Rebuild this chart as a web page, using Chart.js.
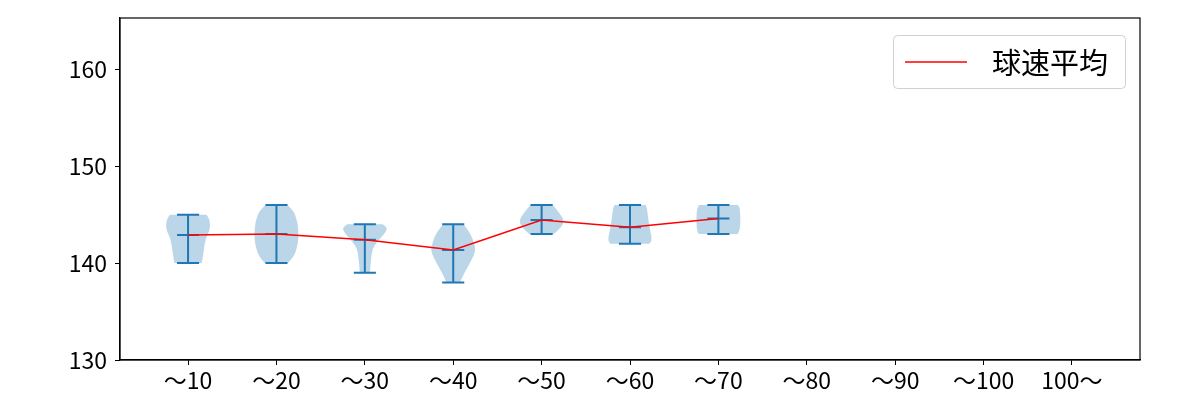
<!DOCTYPE html>
<html lang="ja">
<head>
    <meta charset="UTF-8">
    <title>球速平均</title>
    <script src="https://cdn.jsdelivr.net/npm/chart.js"></script>
    <style>
        body { margin: 0; background: #fff; }
        #wrap { width: 1200px; height: 400px; }
    </style>
</head>
<body>
    <div id="wrap"><canvas id="chart"></canvas></div>
    <script>
        // categories and tick labels
        const categories = ["～10", "～20", "～30", "～40", "～50", "～60", "～70", "～80", "～90", "～100", "100～"];
        const yTicks = [130, 140, 150, 160];

        // per-category stats (null = no data)
        const minVals  = [140, 140, 139, 138, 143, 142, 143, null, null, null, null];
        const maxVals  = [145, 146, 144, 144, 146, 146, 146, null, null, null, null];
        const meanVals = [142.9, 143.0, 142.4, 141.35, 144.45, 143.7, 144.6, null, null, null, null];

        // violin outlines: [speed, relative half-width]
        const violinShapes = [
            [[140, 0.62], [140.5, 0.66], [141.5, 0.72], [142.6, 0.8], [143.3, 0.97], [144, 1.0], [144.6, 0.95], [145, 0.83]],
            [[140, 0.52], [140.5, 0.72], [141, 0.85], [142, 0.97], [143, 1.0], [144, 0.97], [145, 0.85], [145.5, 0.72], [146, 0.5]],
            [[139, 0.23], [140.5, 0.28], [141.5, 0.35], [142.2, 0.55], [142.8, 0.8], [143.3, 0.97], [143.7, 1.0], [144, 0.8]],
            [[138, 0.3], [139, 0.5], [140, 0.76], [141, 0.97], [141.5, 1.0], [142, 0.95], [143, 0.8], [144, 0.47]],
            [[143, 0.55], [143.5, 0.8], [144, 0.97], [144.5, 1.0], [145, 0.85], [145.5, 0.7], [146, 0.5]],
            [[142, 0.88], [142.3, 1.0], [143, 0.95], [144, 0.86], [145, 0.8], [145.7, 0.77], [146, 0.7]],
            [[143, 0.88], [143.3, 0.97], [144.5, 1.0], [145.7, 0.97], [146, 0.88]],
            null, null, null, null
        ];

        const violinWidth = 0.5;   // in category units, like matplotlib
        const fontName = '"Noto Sans CJK JP", "Noto Sans", sans-serif';

        function smoothPath(ctx, pts) {
            ctx.lineTo(pts[0][0], pts[0][1]);
            for (let i = 1; i < pts.length - 1; i++) {
                const mx = (pts[i][0] + pts[i + 1][0]) / 2;
                const my = (pts[i][1] + pts[i + 1][1]) / 2;
                ctx.quadraticCurveTo(pts[i][0], pts[i][1], mx, my);
            }
            const last = pts[pts.length - 1];
            ctx.lineTo(last[0], last[1]);
        }

        const violinPlugin = {
            id: 'violins',
            beforeDatasetsDraw(chart) {
                const { ctx, chartArea, scales: { x, y } } = chart;
                ctx.save();
                ctx.beginPath();
                ctx.rect(chartArea.left, chartArea.top, chartArea.right - chartArea.left, chartArea.bottom - chartArea.top);
                ctx.clip();
                const half = x.getPixelForValue(1 + violinWidth / 2) - x.getPixelForValue(1);
                const capHalf = x.getPixelForValue(1 + violinWidth / 4) - x.getPixelForValue(1);
                violinShapes.forEach((shape, i) => {
                    if (!shape) return;
                    const cx = x.getPixelForValue(i + 1);
                    const right = shape.map(p => [cx + p[1] * half, y.getPixelForValue(p[0])]);
                    const left = shape.slice().reverse().map(p => [cx - p[1] * half, y.getPixelForValue(p[0])]);
                    ctx.beginPath();
                    ctx.moveTo(cx, right[0][1]);
                    smoothPath(ctx, right);
                    smoothPath(ctx, left);
                    ctx.closePath();
                    ctx.fillStyle = 'rgba(31,119,180,0.3)';
                    ctx.fill();
                });
                ctx.strokeStyle = '#1f77b4';
                ctx.lineWidth = 2;
                categories.forEach((c, i) => {
                    if (minVals[i] == null) return;
                    const cx = x.getPixelForValue(i + 1);
                    const yMin = y.getPixelForValue(minVals[i]);
                    const yMax = y.getPixelForValue(maxVals[i]);
                    const yMean = y.getPixelForValue(meanVals[i]);
                    ctx.beginPath();
                    ctx.moveTo(cx, yMin); ctx.lineTo(cx, yMax);
                    [yMin, yMax, yMean].forEach(yy => {
                        ctx.moveTo(cx - capHalf, yy); ctx.lineTo(cx + capHalf, yy);
                    });
                    ctx.stroke();
                });
                ctx.restore();
            },
            afterDraw(chart) {
                const { ctx, chartArea } = chart;
                ctx.save();
                // frame
                ctx.strokeStyle = '#000';
                ctx.lineWidth = 1.2;
                ctx.strokeRect(chartArea.left, chartArea.top, chartArea.right - chartArea.left, chartArea.bottom - chartArea.top);
                // legend box
                const ds = chart.data.datasets[0];
                const bx = 893, by = 35, bw = 232, bh = 53;
                ctx.fillStyle = 'rgba(255,255,255,0.8)';
                ctx.strokeStyle = '#d0d0d0';
                ctx.lineWidth = 1;
                ctx.beginPath();
                ctx.roundRect(bx + 0.5, by + 0.5, bw, bh, 4);
                ctx.fill();
                ctx.stroke();
                ctx.strokeStyle = ds.borderColor;
                ctx.lineWidth = 1.5;
                ctx.beginPath();
                ctx.moveTo(905, by + bh / 2 + 0.5);
                ctx.lineTo(967, by + bh / 2 + 0.5);
                ctx.stroke();
                ctx.fillStyle = '#000';
                ctx.font = '29px ' + fontName;
                ctx.textBaseline = 'middle';
                ctx.fillText(ds.label, 992, by + bh / 2 + 1);
                ctx.restore();
            }
        };

        new Chart(document.getElementById('chart'), {
            type: 'line',
            data: {
                datasets: [{
                    label: '球速平均',
                    data: meanVals.map((v, i) => ({ x: i + 1, y: v })),
                    borderColor: '#ff0000',
                    borderWidth: 1.5,
                    pointRadius: 0,
                    fill: false,
                    spanGaps: false
                }]
            },
            options: {
                responsive: true,
                maintainAspectRatio: false,
                animation: false,
                layout: { padding: { left: 0, right: 60, top: 18, bottom: 0 } },
                plugins: { legend: { display: false }, tooltip: { enabled: false } },
                scales: {
                    x: {
                        type: 'linear',
                        min: 0.23,
                        max: 11.77,
                        afterBuildTicks: s => { s.ticks = categories.map((c, i) => ({ value: i + 1 })); },
                        afterFit: s => { s.height = 40; s.paddingLeft = 0; s.paddingRight = 0; },
                        grid: { drawOnChartArea: false, drawTicks: true, tickLength: 5, color: '#000' },
                        border: { display: true, color: '#000', width: 1.2 },
                        ticks: {
                            autoSkip: false,
                            maxRotation: 0,
                            padding: 1,
                            color: '#000',
                            font: { family: fontName, size: 23 },
                            callback: v => categories[v - 1]
                        }
                    },
                    y: {
                        min: 130,
                        max: 165.3,
                        afterBuildTicks: s => { s.ticks = yTicks.map(v => ({ value: v })); },
                        afterFit: s => { s.width = 120; s.paddingTop = 0; s.paddingBottom = 0; },
                        grid: { drawOnChartArea: false, drawTicks: true, tickLength: 5, color: '#000' },
                        border: { display: true, color: '#000', width: 1.2 },
                        ticks: {
                            padding: 8,
                            color: '#000',
                            font: { family: fontName, size: 23 }
                        }
                    }
                }
            },
            plugins: [violinPlugin]
        });
    </script>
</body>
</html>
